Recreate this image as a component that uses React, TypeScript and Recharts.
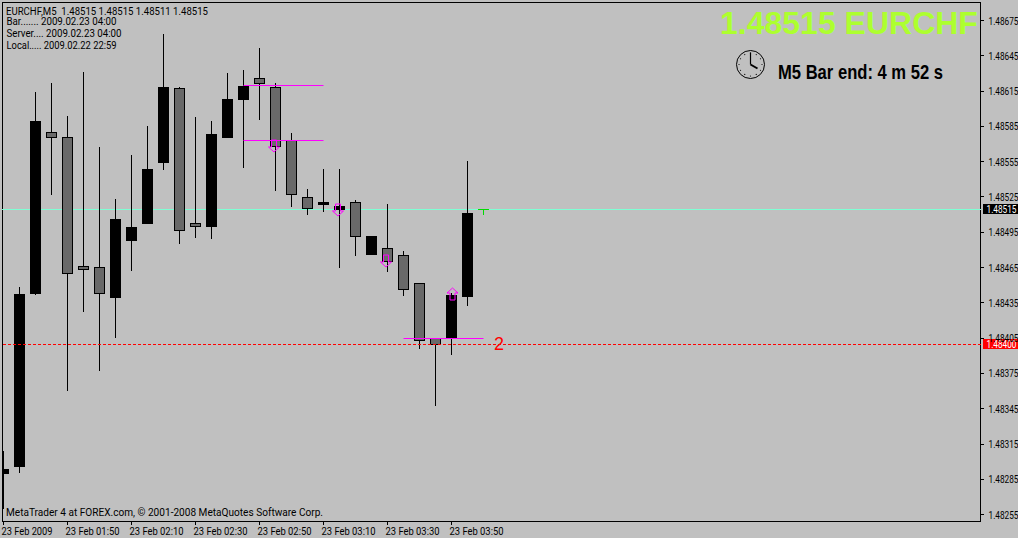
import React from "react";
import { Bar, ComposedChart, ReferenceLine, Scatter, XAxis, YAxis } from "recharts";

const barTimes = [
  "01:30", "01:35", "01:40", "01:45", "01:50", "01:55", "02:00", "02:05", "02:10", "02:15", "02:20",
  "02:25", "02:30", "02:35", "02:40", "02:45", "02:50", "02:55", "03:00", "03:05", "03:10",
  "03:15", "03:20", "03:25", "03:30", "03:35", "03:40", "03:45", "03:50", "03:55", "04:00",
];
const opens = [
  1.482895, 1.482955, 1.484425, 1.485802, 1.48576, 1.484663, 1.484655, 1.484391, 1.484876, 1.48502, 1.485539,
  1.486176, 1.485029, 1.484995, 1.485751, 1.486074, 1.486261, 1.486185, 1.485734, 1.48525, 1.485182,
  1.485139, 1.485207, 1.484757, 1.484816, 1.484757, 1.484519, 1.484051, 1.484051, 1.4844, 1.48515,
];
const closes = [
  1.482938, 1.484425, 1.485896, 1.485751, 1.484595, 1.484629, 1.484425, 1.485063, 1.484995, 1.485488, 1.486185,
  1.484961, 1.484995, 1.485785, 1.486083, 1.486193, 1.48621, 1.485675, 1.485267, 1.485148, 1.485207,
  1.485173, 1.48491, 1.484918, 1.484697, 1.484459, 1.484026, 1.483992, 1.484417, 1.485114, 1.48515,
];
const highs = [
  1.483091, 1.484485, 1.486142, 1.486219, 1.485938, 1.486312, 1.485675, 1.485233, 1.485607, 1.485853, 1.486635,
  1.486185, 1.48593, 1.485896, 1.486304, 1.486329, 1.486516, 1.486219, 1.485794, 1.485318, 1.485488,
  1.485488, 1.485224, 1.484918, 1.48519, 1.484791, 1.484519, 1.484051, 1.484434, 1.485556, 1.48515,
];
const lows = [
  1.482598, 1.482904, 1.484417, 1.485267, 1.483601, 1.484272, 1.483771, 1.484051, 1.484621, 1.48502, 1.485479,
  1.48485, 1.484901, 1.484893, 1.485751, 1.485496, 1.485904, 1.485301, 1.485165, 1.485097, 1.485122,
  1.484646, 1.484748, 1.484757, 1.484612, 1.484408, 1.483958, 1.483473, 1.483907, 1.484323, 1.4851,
];

const priceTicks = [
  1.48675, 1.48645, 1.48615, 1.48585, 1.48555, 1.48525, 1.48495, 1.48465, 1.48435, 1.48405, 1.48375, 1.48345,
  1.48315, 1.48285, 1.48255,
];
const timeTicks = [0, 4, 8, 12, 16, 20, 24, 28];
const timeTickLabels = [
  "23 Feb 2009", "23 Feb 01:50", "23 Feb 02:10", "23 Feb 02:30", "23 Feb 02:50", "23 Feb 03:10", "23 Feb 03:30",
  "23 Feb 03:50",
];

const bidPrice = 1.48515;
const alertPrice = 1.484;

const levelStarts = [15, 15, 25];
const levelEnds = [20, 20, 30];
const levelPrices = [1.486202, 1.485734, 1.484051];

const arrowDownBars = [17, 21, 24];
const arrowDownPrices = [1.485632, 1.485088, 1.484655];
const arrowUpBars = [28];
const arrowUpPrices = [1.484476];

const infoLines = [
  "Bar....... 2009.02.23 04:00",
  "Server.... 2009.02.23 04:00",
  "Local..... 2009.02.22 22:59",
];
const infoWidths = [110, 115, 110];

const rows = barTimes.map((time, i) => ({
  idx: i,
  time,
  open: opens[i],
  close: closes[i],
  high: highs[i],
  low: lows[i],
  range: [lows[i], highs[i]],
}));
const arrowDownRows = arrowDownBars.map((idx, i) => ({ idx, price: arrowDownPrices[i] }));
const arrowUpRows = arrowUpBars.map((idx, i) => ({ idx, price: arrowUpPrices[i] }));

const uiFont = "Roboto, 'Liberation Sans', sans-serif";
const MAGENTA = "#ff00ff";

function Candle(props: any) {
  const { x, y, height, payload } = props;
  const k = height / (payload.high - payload.low);
  const toY = (p: number) => Math.round(y + (payload.high - p) * k);
  const left = Math.round(x);
  const wickX = left + 5;
  const top = toY(Math.max(payload.open, payload.close));
  const bottom = toY(Math.min(payload.open, payload.close));

  // the running bar has no body yet, just a green cross
  if (payload.open === payload.close) {
    return (
      <g fill="#00dc00">
        <rect x={left} y={top} width={11} height={1} />
        <rect x={wickX} y={top} width={1} height={toY(payload.low) - top} />
      </g>
    );
  }

  const up = payload.close > payload.open;
  return (
    <g>
      <rect x={wickX} y={toY(payload.high)} width={1} height={toY(payload.low) - toY(payload.high)} fill="#000" />
      <rect
        x={left + 0.5}
        y={top + 0.5}
        width={10}
        height={bottom - top - 1}
        fill={up ? "#000" : "#696969"}
        stroke="#000"
      />
    </g>
  );
}

// ReferenceLine lands between two pixel rows otherwise
function CrispLine({ x1, x2, y1, stroke, strokeDasharray }: any) {
  const y = Math.round(y1) + 0.5;
  return <line x1={x1} x2={x2} y1={y} y2={y} stroke={stroke} strokeDasharray={strokeDasharray} />;
}

function ArrowDown({ cx, cy }: any) {
  const x = Math.round(cx) - 2;
  const y = Math.round(cy);
  return (
    <path
      d={`M${x - 2.5} ${y - 12}h5v7h3l-5.5 5l-5.5 -5h3z`}
      fill="none"
      stroke={MAGENTA}
      strokeWidth={1}
    />
  );
}

function ArrowUp({ cx, cy }: any) {
  const x = Math.round(cx);
  const y = Math.round(cy);
  return (
    <path
      d={`M${x - 2} ${y + 12}h5v-7h3l-5.5 -5l-5.5 5h3z`}
      fill="none"
      stroke={MAGENTA}
      strokeWidth={1}
    />
  );
}

function PriceTick({ x, y, payload }: any) {
  return (
    <text x={x + 2.5} y={y + 4} fontFamily={uiFont} fontSize={11} fill="#000" textLength={30} lengthAdjust="spacingAndGlyphs">
      {payload.value.toFixed(5)}
    </text>
  );
}

function TimeTick({ x, y, payload }: any) {
  const label = timeTickLabels[timeTicks.indexOf(payload.value)];
  return (
    <text
      x={x - 2}
      y={y + 8}
      fontFamily={uiFont}
      fontSize={11}
      fill="#000"
      textLength={label.length === 11 ? 51 : 54}
      lengthAdjust="spacingAndGlyphs"
    >
      {label}
    </text>
  );
}

function priceTag(color: string, text: string) {
  return ({ viewBox }: any) => {
    const right = viewBox.x + viewBox.width;
    const y = viewBox.y;
    return (
      <g>
        <rect x={right + 2} y={Math.round(y) - 5} width={35} height={10} fill={color} />
        <text x={right + 5.5} y={Math.round(y) + 4} fontFamily={uiFont} fontSize={11} fill="#fff" textLength={30} lengthAdjust="spacingAndGlyphs">
          {text}
        </text>
      </g>
    );
  };
}

function ClockIcon() {
  const cx = 750.5;
  const cy = 64.5;
  const marks = [0, 30, 60, 90, 120, 150, 180, 210, 240, 270, 300, 330];
  return (
    <g>
      <circle cx={cx} cy={cy} r={14} fill="none" stroke="#000" />
      {marks.map((deg) => (
        <circle
          key={deg}
          cx={cx + 11.5 * Math.sin((deg * Math.PI) / 180)}
          cy={cy - 11.5 * Math.cos((deg * Math.PI) / 180)}
          r={0.6}
          fill="#000"
        />
      ))}
      <line x1={cx} y1={cy} x2={cx} y2={cy - 12} stroke="#000" strokeWidth={1.2} />
      <line x1={cx} y1={cy} x2={cx + 7} y2={cy + 4} stroke="#000" strokeWidth={2} />
    </g>
  );
}

export default function App() {
  return (
    <div style={{ position: "fixed", left: 0, top: 0, width: 1018, height: 538, background: "#c0c0c0", overflow: "hidden" }}>
      <ComposedChart
        width={1018}
        height={538}
        data={rows}
        margin={{ top: 2, right: 0, bottom: 0, left: 2 }}
        barGap={0}
      >
        <rect x={2.5} y={2.5} width={978} height={519} fill="none" stroke="#000" />
        <XAxis
          dataKey="idx"
          type="number"
          domain={[-0.09375, 61.09375]}
          ticks={timeTicks}
          allowDataOverflow
          height={17}
          axisLine={false}
          tickLine={{ stroke: "#000", shapeRendering: "crispEdges" }}
          tickSize={4}
          tick={<TimeTick />}
          interval={0}
        />
        <YAxis
          orientation="right"
          type="number"
          domain={[1.48249575, 1.48690725]}
          ticks={priceTicks}
          allowDataOverflow
          width={37}
          axisLine={false}
          tickLine={{ stroke: "#000", shapeRendering: "crispEdges" }}
          tickSize={3}
          tick={<PriceTick />}
          interval={0}
        />
        <ReferenceLine
          y={bidPrice}
          stroke="#7fffd4"
          zIndex={100}
          shape={<CrispLine />}
          label={priceTag("#000", bidPrice.toFixed(5))}
        />
        <Bar dataKey="range" barSize={11} shape={<Candle />} isAnimationActive={false} />
        {levelPrices.map((price, i) => (
          <ReferenceLine
            key={i}
            segment={[
              { x: levelStarts[i], y: price },
              { x: levelEnds[i], y: price },
            ]}
            stroke={MAGENTA}
            shape={<CrispLine />}
          />
        ))}
        <ReferenceLine
          y={alertPrice}
          stroke="#ff0000"
          strokeDasharray="3 2"
          shape={<CrispLine />}
          label={priceTag("#ff0000", alertPrice.toFixed(5))}
        />
        <Scatter data={arrowDownRows} dataKey="price" shape={<ArrowDown />} isAnimationActive={false} />
        <Scatter data={arrowUpRows} dataKey="price" shape={<ArrowUp />} isAnimationActive={false} />

        <text x={6} y={14.5} fontFamily={uiFont} fontSize={11} fill="#000" textLength={202} lengthAdjust="spacingAndGlyphs">
          EURCHF,M5{"\u00a0\u00a0"}1.48515 1.48515 1.48511 1.48515
        </text>
        {infoLines.map((line, i) => (
          <text key={i} x={6.5} y={24.5 + i * 12} fontFamily={uiFont} fontSize={11} fill="#000" textLength={infoWidths[i]} lengthAdjust="spacingAndGlyphs">
            {line}
          </text>
        ))}
        <text x={6} y={516} fontFamily={uiFont} fontSize={11} fill="#000" textLength={317} lengthAdjust="spacingAndGlyphs">
          MetaTrader 4 at FOREX.com, © 2001-2008 MetaQuotes Software Corp.
        </text>
        <text x={720} y={34} fontFamily="'Liberation Sans', Arial, sans-serif" fontWeight={700} fontSize={32} fill="#adff2f">
          1.48515 EURCHF
        </text>
        <ClockIcon />
        <text
          x={778}
          y={79}
          fontFamily="'Liberation Sans', sans-serif"
          fontWeight={700}
          fontSize={21}
          fill="#000"
          textLength={165}
          lengthAdjust="spacingAndGlyphs"
        >
          M5 Bar end: 4 m 52 s
        </text>
        <text x={494} y={350} fontFamily="'Liberation Sans', Arial, sans-serif" fontSize={18} fill="#ff0000">
          2
        </text>
      </ComposedChart>
    </div>
  );
}
